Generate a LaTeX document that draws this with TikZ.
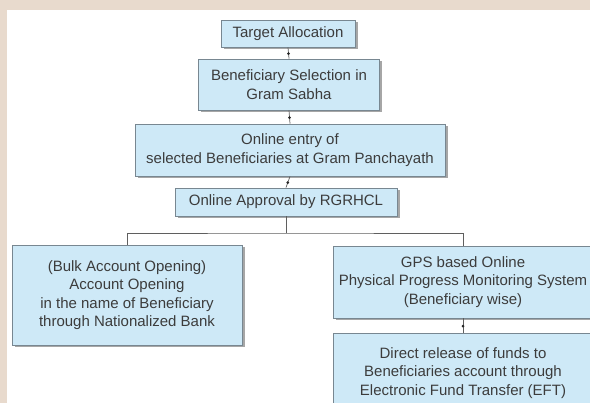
\documentclass[tikz,border=0pt]{standalone}
\usepackage{fontspec}
\setmainfont{Liberation Sans}
\usetikzlibrary{shadows}
\definecolor{pagebeige}{RGB}{232,218,205}
\definecolor{boxblue}{RGB}{206,233,247}
\definecolor{boxedge}{RGB}{120,135,145}
\definecolor{inkgray}{RGB}{60,60,60}
\definecolor{linkgray}{RGB}{95,95,95}
\begin{document}
\begin{tikzpicture}[x=1pt,y=-1pt,
  flowbox/.style={draw=boxedge, line width=0.8pt, fill=boxblue, text=inkgray,
    font=\fontsize{15}{18.5}\selectfont, align=center, inner sep=0pt,
    drop shadow={shadow xshift=2.5pt, shadow yshift=-2.5pt, fill=black, opacity=0.35}},
  link/.style={draw=linkgray, line width=0.7pt},
  joint/.style={circle, fill=black!85, inner sep=0pt, minimum size=3pt}]

% page: beige frame with white panel
\useasboundingbox (0,0) rectangle (590,403);
\fill[pagebeige] (0,0) rectangle (590,403);
\fill[white] (7,10) rectangle (590,403);

% main chain
\node[flowbox, minimum width=134pt, minimum height=27pt] (target) at (288,33.5) {Target Allocation};
\node[flowbox, minimum width=181pt, minimum height=51pt] (select) at (289,84.5) {Beneficiary Selection in\\Gram Sabha};
\node[flowbox, minimum width=310pt, minimum height=52pt] (entry) at (290,150) {Online entry of\\selected Beneficiaries at Gram Panchayath};
\node[flowbox, minimum width=222pt, minimum height=28pt] (approve) at (286,202) {Online Approval by RGRHCL};

% branches
\node[flowbox, minimum width=230pt, minimum height=100pt] (bank) at (127,295) {(Bulk Account Opening)\\Account Opening\\in the name of Beneficiary\\through Nationalized Bank};
\node[flowbox, minimum width=260pt, minimum height=72pt] (gps) at (463,282) {GPS based Online\\Physical Progress Monitoring System\\(Beneficiary wise)};
\node[flowbox, minimum width=260pt, minimum height=80pt] (release) at (463,373) {Direct release of funds to\\Beneficiaries account through\\Electronic Fund Transfer (EFT)};

% connectors
\draw[link] (target.south) -- node[joint, pos=0.55] {} (select.north);
\draw[link] (select.south) -- node[joint, pos=0.55] {} (entry.north);
\draw[link] (entry.south) -- node[joint, pos=0.55] {} (approve.north);
\coordinate (fork) at (approve.south |- 0,233);
\draw[link] (approve.south) -- (fork);
\draw[link] (bank.north) |- (fork) -| (gps.north);
\draw[link] (gps.south) -- node[joint, pos=0.55] {} (release.north);
\end{tikzpicture}
\end{document}
